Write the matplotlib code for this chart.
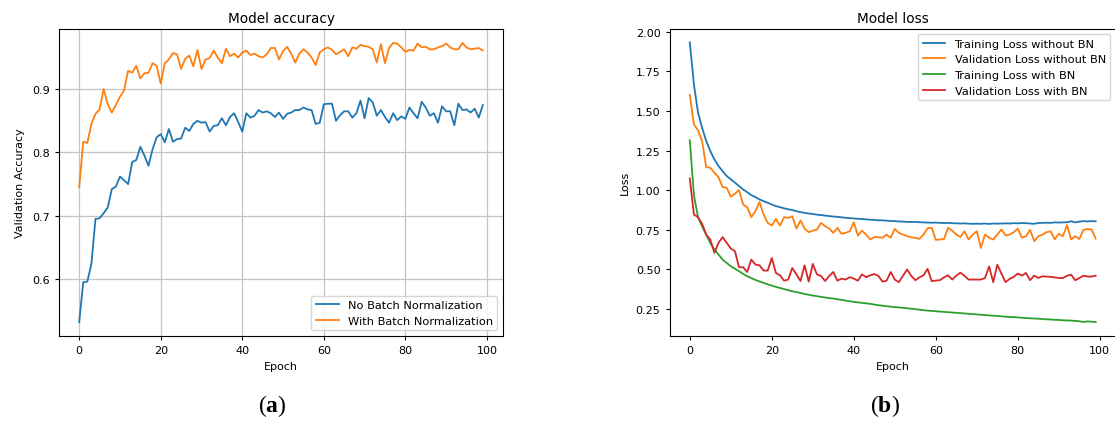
import matplotlib
matplotlib.use("Agg")
import matplotlib.pyplot as plt
import numpy as np

plt.rcParams['mathtext.fontset'] = 'custom'
plt.rcParams['mathtext.rm'] = 'Liberation Serif'
plt.rcParams['mathtext.bf'] = 'Liberation Serif:bold'

epochs = list(range(100))

acc_no_bn = [0.532, 0.595, 0.596, 0.624, 0.695, 0.696, 0.704, 0.713, 0.742, 0.746,
             0.762, 0.756, 0.750, 0.785, 0.788, 0.809, 0.795, 0.779, 0.805, 0.824,
             0.829, 0.816, 0.837, 0.817, 0.821, 0.822, 0.839, 0.834, 0.845, 0.850,
             0.847, 0.848, 0.833, 0.842, 0.843, 0.854, 0.843, 0.856, 0.862, 0.848,
             0.833, 0.862, 0.855, 0.858, 0.867, 0.863, 0.865, 0.862, 0.856, 0.863,
             0.853, 0.861, 0.863, 0.867, 0.867, 0.871, 0.868, 0.867, 0.845, 0.847,
             0.876, 0.877, 0.877, 0.850, 0.859, 0.865, 0.865, 0.855, 0.862, 0.882,
             0.854, 0.886, 0.879, 0.858, 0.867, 0.856, 0.847, 0.862, 0.851, 0.857,
             0.853, 0.871, 0.862, 0.854, 0.880, 0.871, 0.858, 0.862, 0.847, 0.873,
             0.865, 0.865, 0.843, 0.877, 0.867, 0.868, 0.863, 0.869, 0.855, 0.875]

acc_bn = [0.745, 0.817, 0.815, 0.845, 0.861, 0.868, 0.900, 0.876, 0.863, 0.875,
          0.888, 0.898, 0.929, 0.926, 0.937, 0.917, 0.925, 0.926, 0.941, 0.937,
          0.909, 0.941, 0.947, 0.957, 0.955, 0.932, 0.948, 0.953, 0.936, 0.962,
          0.932, 0.947, 0.949, 0.961, 0.950, 0.941, 0.964, 0.952, 0.956, 0.950,
          0.958, 0.961, 0.954, 0.956, 0.952, 0.950, 0.955, 0.965, 0.965, 0.947,
          0.960, 0.967, 0.956, 0.942, 0.956, 0.963, 0.958, 0.950, 0.938, 0.958,
          0.963, 0.966, 0.962, 0.955, 0.959, 0.963, 0.952, 0.966, 0.964, 0.970,
          0.968, 0.967, 0.963, 0.942, 0.971, 0.941, 0.965, 0.973, 0.972, 0.966,
          0.959, 0.962, 0.961, 0.972, 0.966, 0.967, 0.963, 0.963, 0.966, 0.968,
          0.972, 0.966, 0.963, 0.963, 0.973, 0.966, 0.963, 0.964, 0.965, 0.961]

train_loss_no_bn = [1.933, 1.669, 1.491, 1.395, 1.311, 1.248, 1.195, 1.153, 1.121, 1.090,
                    1.069, 1.048, 1.027, 1.005, 0.988, 0.969, 0.957, 0.942, 0.931, 0.921,
                    0.910, 0.900, 0.893, 0.886, 0.880, 0.875, 0.868, 0.862, 0.857, 0.853,
                    0.850, 0.846, 0.843, 0.840, 0.837, 0.834, 0.832, 0.829, 0.826, 0.824,
                    0.822, 0.820, 0.818, 0.816, 0.814, 0.813, 0.810, 0.810, 0.808, 0.806,
                    0.805, 0.803, 0.802, 0.800, 0.800, 0.800, 0.798, 0.797, 0.796, 0.795,
                    0.796, 0.794, 0.793, 0.794, 0.792, 0.791, 0.790, 0.791, 0.789, 0.788,
                    0.789, 0.788, 0.790, 0.787, 0.790, 0.789, 0.790, 0.791, 0.790, 0.792,
                    0.791, 0.793, 0.792, 0.790, 0.788, 0.793, 0.794, 0.795, 0.794, 0.797,
                    0.796, 0.797, 0.798, 0.804, 0.797, 0.802, 0.805, 0.803, 0.805, 0.804]

val_loss_no_bn = [1.602, 1.416, 1.378, 1.311, 1.146, 1.142, 1.111, 1.083, 1.020, 1.016,
                  0.959, 0.978, 1.001, 0.910, 0.893, 0.830, 0.868, 0.925, 0.847, 0.794,
                  0.777, 0.819, 0.777, 0.830, 0.825, 0.836, 0.758, 0.809, 0.758, 0.735,
                  0.745, 0.751, 0.794, 0.773, 0.758, 0.731, 0.762, 0.725, 0.731, 0.741,
                  0.798, 0.714, 0.745, 0.720, 0.689, 0.704, 0.704, 0.700, 0.720, 0.700,
                  0.756, 0.731, 0.720, 0.710, 0.703, 0.699, 0.693, 0.720, 0.760, 0.763,
                  0.687, 0.689, 0.692, 0.763, 0.745, 0.720, 0.705, 0.741, 0.689, 0.720,
                  0.741, 0.636, 0.720, 0.700, 0.689, 0.720, 0.752, 0.715, 0.720, 0.735,
                  0.758, 0.700, 0.710, 0.750, 0.678, 0.710, 0.720, 0.735, 0.741, 0.690,
                  0.725, 0.710, 0.780, 0.689, 0.710, 0.692, 0.750, 0.755, 0.752, 0.695]

train_loss_bn = [1.315, 0.970, 0.830, 0.772, 0.720, 0.667, 0.625, 0.594, 0.562, 0.541,
                 0.520, 0.505, 0.489, 0.472, 0.457, 0.445, 0.434, 0.424, 0.415, 0.406,
                 0.398, 0.390, 0.383, 0.376, 0.369, 0.362, 0.357, 0.351, 0.345, 0.340,
                 0.335, 0.331, 0.327, 0.323, 0.319, 0.316, 0.312, 0.308, 0.303, 0.299,
                 0.295, 0.292, 0.289, 0.286, 0.283, 0.278, 0.274, 0.271, 0.268, 0.265,
                 0.262, 0.260, 0.258, 0.255, 0.252, 0.249, 0.246, 0.243, 0.240, 0.238,
                 0.236, 0.234, 0.232, 0.230, 0.228, 0.226, 0.224, 0.222, 0.220, 0.218,
                 0.216, 0.214, 0.212, 0.210, 0.208, 0.206, 0.204, 0.202, 0.200, 0.199,
                 0.197, 0.195, 0.193, 0.192, 0.190, 0.189, 0.187, 0.185, 0.184, 0.182,
                 0.181, 0.179, 0.178, 0.177, 0.175, 0.173, 0.168, 0.172, 0.170, 0.168]

val_loss_bn = [1.074, 0.847, 0.830, 0.788, 0.720, 0.689, 0.605, 0.668, 0.704, 0.668,
               0.632, 0.616, 0.514, 0.514, 0.484, 0.562, 0.531, 0.526, 0.493, 0.493,
               0.572, 0.478, 0.463, 0.429, 0.436, 0.509, 0.469, 0.427, 0.526, 0.423,
               0.535, 0.469, 0.459, 0.427, 0.459, 0.484, 0.429, 0.442, 0.436, 0.451,
               0.442, 0.429, 0.469, 0.451, 0.463, 0.471, 0.459, 0.423, 0.429, 0.484,
               0.436, 0.420, 0.460, 0.500, 0.460, 0.432, 0.450, 0.463, 0.504, 0.426,
               0.430, 0.432, 0.450, 0.463, 0.436, 0.460, 0.480, 0.460, 0.436, 0.436,
               0.436, 0.436, 0.446, 0.519, 0.420, 0.530, 0.474, 0.420, 0.440, 0.453,
               0.474, 0.461, 0.478, 0.432, 0.461, 0.446, 0.457, 0.455, 0.453, 0.450,
               0.446, 0.445, 0.460, 0.467, 0.432, 0.445, 0.461, 0.455, 0.455, 0.461]

W, H = 1115, 427
fig = plt.figure(figsize=(W / 100, H / 100), dpi=100)

TICK = 8
LAB = 8
TIT = 9.8
LEG = 8.2
LW = 1.3

def frac(x0, x1, ytop, ybot):
    return [x0 / W, (H - ybot) / H, (x1 - x0) / W, (ybot - ytop) / H]

# Left: accuracy
ax1 = fig.add_axes(frac(59, 503, 30, 337))
ax1.plot(epochs, acc_no_bn, color='#1f77b4', lw=LW, label='No Batch Normalization')
ax1.plot(epochs, acc_bn, color='#ff7f0e', lw=LW, label='With Batch Normalization')
ax1.set_title('Model accuracy', fontsize=TIT, pad=5)
ax1.set_xlabel('Epoch', fontsize=LAB, labelpad=4)
ax1.set_ylabel('Validation Accuracy', fontsize=LAB, labelpad=5)
ax1.set_xticks([0, 20, 40, 60, 80, 100])
ax1.set_yticks([0.6, 0.7, 0.8, 0.9])
ax1.tick_params(labelsize=TICK, length=3)
ax1.grid(True, color='#c4c4c4', lw=0.9)
ax1.legend(loc='lower right', fontsize=LEG, framealpha=0.8, edgecolor='#cccccc')

# Right: loss
ax2 = fig.add_axes(frac(669.5, 1116, 29.5, 337))
ax2.plot(epochs, train_loss_no_bn, color='#1f77b4', lw=LW, label='Training Loss without BN')
ax2.plot(epochs, val_loss_no_bn, color='#ff7f0e', lw=LW, label='Validation Loss without BN')
ax2.plot(epochs, train_loss_bn, color='#2ca02c', lw=LW, label='Training Loss with BN')
ax2.plot(epochs, val_loss_bn, color='#d62728', lw=LW, label='Validation Loss with BN')
ax2.set_title('Model loss', fontsize=TIT, pad=5)
ax2.set_xlabel('Epoch', fontsize=LAB, labelpad=4)
ax2.set_ylabel('Loss', fontsize=LAB, labelpad=4)
ax2.set_xticks([0, 20, 40, 60, 80, 100])
ax2.set_yticks([0.25, 0.5, 0.75, 1.0, 1.25, 1.5, 1.75, 2.0])
ax2.set_yticklabels(['%.2f' % v for v in [0.25, 0.5, 0.75, 1.0, 1.25, 1.5, 1.75, 2.0]])
ax2.tick_params(labelsize=TICK, length=3)
ax2.legend(loc='upper right', fontsize=LEG, framealpha=0.8, edgecolor='#cccccc')

# Sub-figure captions
fig.text(272 / W, 1 - 406 / H, r'($\mathbf{a}$)', fontsize=17, family='Liberation Serif',
         ha='center', va='center')
fig.text(885 / W, 1 - 406 / H, r'($\mathbf{b}$)', fontsize=17, family='Liberation Serif',
         ha='center', va='center')

fig.savefig('out.png', dpi=100)
